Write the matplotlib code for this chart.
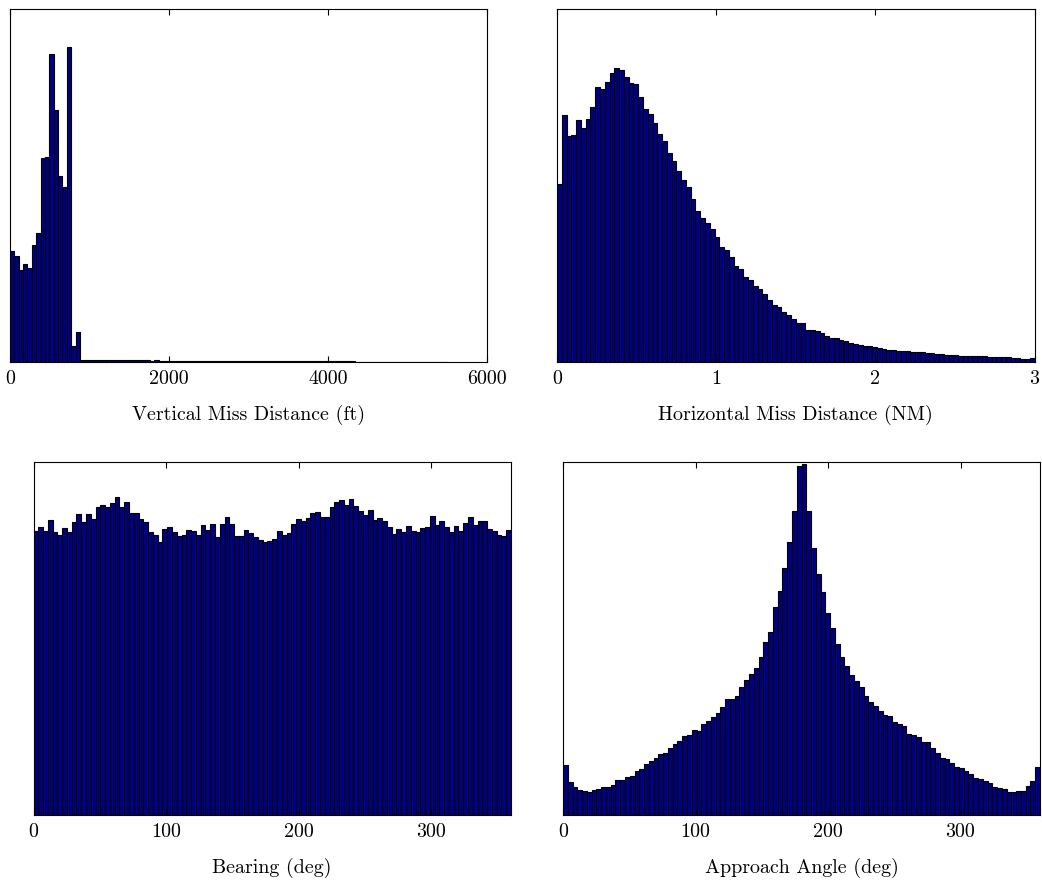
import numpy as np
import matplotlib
matplotlib.use("Agg")
import matplotlib.pyplot as plt

plt.rcParams['font.family'] = 'serif'
plt.rcParams['font.serif'] = ['cmr10']
plt.rcParams['mathtext.fontset'] = 'cm'
plt.rcParams['axes.unicode_minus'] = False

# bar heights, as fraction of the y range (y axis carries no ticks)
vertical_miss = [0.314, 0.302, 0.260, 0.279, 0.266, 0.333, 0.365, 0.580, 0.582, 0.875,
                 0.714, 0.529, 0.497, 0.895, 0.046, 0.086, 0.006, 0.006, 0.005, 0.006,
                 0.005, 0.005, 0.006, 0.006, 0.007, 0.007, 0.006, 0.006, 0.005, 0.005,
                 0.005, 0.005, 0.004, 0.005, 0.004, 0.004, 0.004, 0.004, 0.004, 0.003,
                 0.004, 0.003, 0.003, 0.003, 0.003, 0.003, 0.003, 0.003, 0.003, 0.003,
                 0.002, 0.003, 0.002, 0.002, 0.002, 0.002, 0.002, 0.002, 0.002, 0.002,
                 0.002, 0.002, 0.002, 0.002, 0.002, 0.002, 0.002, 0.002, 0.002, 0.002,
                 0.002, 0.002, 0.002, 0.002, 0.002, 0.002, 0.002, 0.002, 0.002, 0.001,
                 0.001, 0.001, 0.001, 0.001, 0.001, 0.001, 0.001, 0.001, 0.001, 0.001,
                 0.001, 0.001, 0.001, 0.001, 0.001, 0.001, 0.001, 0.001, 0.001, 0.001]

horizontal_miss = [0.505, 0.700, 0.640, 0.645, 0.686, 0.664, 0.689, 0.724, 0.779, 0.774,
                   0.794, 0.821, 0.835, 0.829, 0.809, 0.791, 0.789, 0.753, 0.718, 0.703,
                   0.679, 0.646, 0.626, 0.592, 0.570, 0.541, 0.517, 0.496, 0.461, 0.428,
                   0.408, 0.395, 0.376, 0.354, 0.327, 0.319, 0.299, 0.273, 0.263, 0.240,
                   0.232, 0.217, 0.206, 0.192, 0.177, 0.163, 0.155, 0.142, 0.133, 0.121,
                   0.112, 0.111, 0.092, 0.090, 0.087, 0.081, 0.074, 0.069, 0.069, 0.062,
                   0.059, 0.055, 0.052, 0.049, 0.046, 0.045, 0.042, 0.040, 0.038, 0.034,
                   0.034, 0.031, 0.031, 0.030, 0.028, 0.027, 0.027, 0.026, 0.026, 0.024,
                   0.022, 0.021, 0.021, 0.019, 0.018, 0.018, 0.018, 0.017, 0.017, 0.016,
                   0.015, 0.015, 0.015, 0.013, 0.014, 0.012, 0.011, 0.009, 0.009, 0.010]

bearing = [0.805, 0.816, 0.805, 0.836, 0.800, 0.794, 0.814, 0.800, 0.831, 0.853,
           0.831, 0.853, 0.839, 0.873, 0.879, 0.873, 0.884, 0.900, 0.873, 0.886,
           0.856, 0.855, 0.838, 0.829, 0.802, 0.793, 0.773, 0.809, 0.816, 0.800,
           0.791, 0.792, 0.807, 0.803, 0.793, 0.822, 0.807, 0.823, 0.786, 0.825,
           0.844, 0.824, 0.789, 0.790, 0.808, 0.799, 0.786, 0.780, 0.774, 0.777,
           0.781, 0.804, 0.793, 0.798, 0.825, 0.839, 0.832, 0.841, 0.856, 0.859,
           0.844, 0.845, 0.872, 0.887, 0.893, 0.878, 0.895, 0.876, 0.860, 0.851,
           0.864, 0.835, 0.841, 0.833, 0.815, 0.797, 0.809, 0.802, 0.819, 0.804,
           0.800, 0.813, 0.817, 0.846, 0.820, 0.832, 0.816, 0.802, 0.818, 0.804,
           0.827, 0.844, 0.822, 0.833, 0.833, 0.809, 0.804, 0.792, 0.791, 0.806]

approach = [0.140, 0.092, 0.077, 0.069, 0.066, 0.063, 0.069, 0.073, 0.079, 0.078,
            0.085, 0.098, 0.098, 0.107, 0.110, 0.123, 0.130, 0.142, 0.152, 0.159,
            0.172, 0.174, 0.189, 0.201, 0.208, 0.223, 0.226, 0.240, 0.238, 0.257,
            0.266, 0.276, 0.287, 0.305, 0.329, 0.327, 0.337, 0.361, 0.382, 0.398,
            0.417, 0.448, 0.488, 0.518, 0.589, 0.634, 0.698, 0.773, 0.860, 0.990,
            0.994, 0.860, 0.756, 0.682, 0.630, 0.571, 0.530, 0.484, 0.446, 0.422,
            0.395, 0.379, 0.361, 0.336, 0.319, 0.309, 0.295, 0.281, 0.279, 0.262,
            0.257, 0.251, 0.229, 0.225, 0.219, 0.206, 0.205, 0.188, 0.175, 0.160,
            0.157, 0.147, 0.136, 0.131, 0.123, 0.114, 0.103, 0.101, 0.096, 0.089,
            0.078, 0.076, 0.071, 0.065, 0.064, 0.067, 0.068, 0.080, 0.094, 0.134]

panels = [
    # heights, bin range, xlim, ticks, label, axes rect in pixels (x0, y0, x1, y1)
    (vertical_miss, (0, 5500), (0, 6000), [0, 2000, 4000, 6000],
     'Vertical Miss Distance (ft)', (10, 9.5, 487, 362)),
    (horizontal_miss, (0, 3), (0, 3), [0, 1, 2, 3],
     'Horizontal Miss Distance (NM)', (557, 9.5, 1034.5, 362)),
    (bearing, (0, 360), (0, 360), [0, 100, 200, 300],
     'Bearing (deg)', (33.5, 462, 511, 814.5)),
    (approach, (0, 360), (0, 360), [0, 100, 200, 300],
     'Approach Angle (deg)', (563, 462, 1040, 814.5)),
]

W, H = 1042, 888
fig = plt.figure(figsize=(W / 100, H / 100), dpi=100)

for heights, rng, xl, ticks, label, (x0, y0, x1, y1) in panels:
    ax = fig.add_axes([x0 / W, 1 - y1 / H, (x1 - x0) / W, (y1 - y0) / H])
    edges = np.linspace(rng[0], rng[1], len(heights) + 1)
    ax.bar(edges[:-1], heights, width=np.diff(edges), align='edge',
           color='#000080', edgecolor='black', linewidth=0.8)
    ax.set_xlim(xl)
    ax.set_ylim(0, 1)
    ax.set_yticks([])
    ax.set_xticks(ticks)
    ax.set_xticklabels([str(t) for t in ticks])
    ax.tick_params(axis='x', direction='in', top=True, length=4, width=0.8,
                   labelsize=14.4, pad=6)
    ax.set_xlabel(label, fontsize=14.4, labelpad=12)
    for s in ax.spines.values():
        s.set_linewidth(0.8)

fig.savefig('out.png', dpi=100)
